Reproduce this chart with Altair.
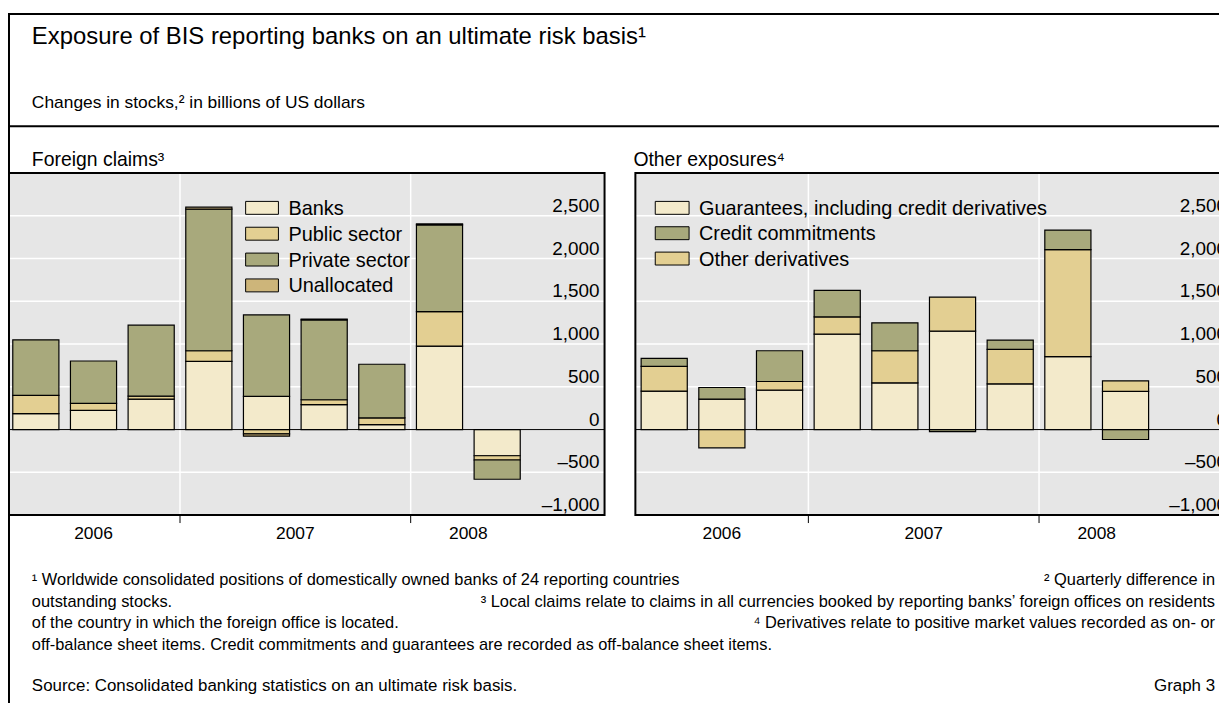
import altair as alt
import pandas as pd

# ---------------- data ----------------
quarters = ["2006-Q2", "2006-Q3", "2006-Q4", "2007-Q1", "2007-Q2",
            "2007-Q3", "2007-Q4", "2008-Q1", "2008-Q2"]

# Foreign claims (stack order bottom-up)
fc_names = ["Banks", "Public sector", "Private sector", "Unallocated"]
banks = [186, 225, 357, 798, 388, 291, 58, 977, -306]
public_sector = [213, 81, 34, 124, -50, 58, 78, 403, -50]
private_sector = [651, 496, 830, 1656, 953, 934, 628, 1015, -225]
unallocated = [0, 0, 0, 23, -27, 10, 0, 10, 0]

# Other exposures
oe_legend = ["Guarantees, including credit derivatives", "Credit commitments", "Other derivatives"]
oe_stack = ["Guarantees, including credit derivatives", "Other derivatives", "Credit commitments"]
guarantees = [450, 357, 461, 1116, 547, 1151, 535, 853, 446]
other_derivatives = [290, -213, 101, 202, 375, 399, 403, 1252, 124]
credit_commitments = [93, 135, 360, 310, 326, -23, 109, 228, -116]

y_ticks = [-1000, -500, 0, 500, 1000, 1500, 2000, 2500]
y_tick_labels = ["\u20131,000", "\u2013500", "0", "500", "1,000", "1,500", "2,000", "2,500"]

title = "Exposure of BIS reporting banks on an ultimate risk basis\u00b9"
subtitle = "Changes in stocks,\u00b2 in billions of US dollars"
panel_titles = ["Foreign claims\u00b3", "Other exposures\u2074"]
footnotes = [
    ("\u00b9 Worldwide consolidated positions of domestically owned banks of 24 reporting countries",
     "\u00b2 Quarterly difference in"),
    ("outstanding stocks.",
     "\u00b3 Local claims relate to claims in all currencies booked by reporting banks\u2019 foreign offices on residents"),
    ("of the country in which the foreign office is located.",
     "\u2074 Derivatives relate to positive market values recorded as on- or"),
    ("off-balance sheet items. Credit commitments and guarantees are recorded as off-balance sheet items.", ""),
]
source = "Source: Consolidated banking statistics on an ultimate risk basis."
graph_no = "Graph 3"

# ---------------- styles / layout ----------------
FONT = "Liberation Sans"
LIGHT = "#F3EACB"
TAN = "#E3CF92"
OLIVE = "#A8A97C"
DARKTAN = "#CDB57A"
BG = "#E6E6E6"
colors = {
    "Banks": LIGHT, "Public sector": TAN, "Private sector": OLIVE, "Unallocated": DARKTAN,
    "Guarantees, including credit derivatives": LIGHT, "Credit commitments": OLIVE,
    "Other derivatives": TAN,
}

W, H = 1218, 695
STEP = 58.0            # px per quarter
FIRST = 28.0           # px of first bar centre (left panel)
RIGHT_SHIFT = 632.0    # px shift of right panel
ZERO = 422.0           # px of zero line
PPU = 0.086            # px per billion
BAR_HALF = 0.4

d0 = 1 - FIRST / STEP
XS = alt.Scale(domain=[d0, d0 + W / STEP], nice=False, zero=False)
YS = alt.Scale(domain=[-(H - ZERO) / PPU, ZERO / PPU], nice=False, zero=False)
off_r = RIGHT_SHIFT / STEP
YMAX, YMIN = 3000, -1000

panels = [
    dict(px0=1, px1=600, off=0.0, lab_x=595),
    dict(px0=631, px1=1232, off=off_r, lab_x=1226),
]


def stack_rows(names, series, off):
    rows = []
    for i in range(len(quarters)):
        pos, neg = 0.0, 0.0
        for name, vals in zip(names, series):
            v = vals[i]
            if v == 0:
                continue
            if v > 0:
                y0, pos = pos, pos + v
                y1 = pos
            else:
                y0, neg = neg, neg + v
                y1 = neg
            rows.append(dict(quarter=quarters[i], series=name, value=v,
                             xa=i + 1 - BAR_HALF + off, xb=i + 1 + BAR_HALF + off, y0=y0, y1=y1))
    return rows


bars_df = pd.DataFrame(
    stack_rows(fc_names, [banks, public_sector, private_sector, unallocated], 0.0)
    + stack_rows(oe_stack, [guarantees, other_derivatives, credit_commitments], off_r)
)

# year boundaries and centres derived from the quarter list
yrs = [q[:4] for q in quarters]
boundaries = [i + 0.5 for i in range(1, len(quarters)) if yrs[i] != yrs[i - 1]]
year_names = sorted(set(yrs))
year_centres = [sum(i + 1 for i, y in enumerate(yrs) if y == yn) / yrs.count(yn) for yn in year_names]

one = pd.DataFrame({"k": [0]})
layers = []


def text_layer(s, x, y, size, align="left", baseline="alphabetic"):
    return alt.Chart(pd.DataFrame({"t": [s]})).mark_text(
        align=align, baseline=baseline, fontSize=size, font=FONT, color="black"
    ).encode(x=alt.value(x), y=alt.value(y), text="t:N")


# outer frame and divider
layers.append(alt.Chart(one).mark_rect(fill=None, stroke="black", strokeWidth=2).encode(
    x=alt.value(1), x2=alt.value(1400), y=alt.value(4), y2=alt.value(1200)))
layers.append(alt.Chart(one).mark_rule(color="black", strokeWidth=2).encode(
    x=alt.value(1), x2=alt.value(1400), y=alt.value(117)))

for p in panels:
    layers.append(alt.Chart(one).mark_rect(fill=BG).encode(
        x=alt.value(p["px0"]), x2=alt.value(p["px1"]),
        y=alt.YDatum(YMAX, scale=YS, axis=None), y2=alt.Y2Datum(YMIN)))
    grid_df = pd.DataFrame({"v": [t for t in y_ticks if t != 0]})
    layers.append(alt.Chart(grid_df).mark_rule(color="white", strokeWidth=1.5).encode(
        y=alt.Y("v:Q", scale=YS, axis=None), x=alt.value(p["px0"]), x2=alt.value(p["px1"])))
    vb = pd.DataFrame({"v": [b + p["off"] for b in boundaries]})
    layers.append(alt.Chart(vb).mark_rule(color="white", strokeWidth=1.5).encode(
        x=alt.X("v:Q", scale=XS, axis=None),
        y=alt.YDatum(YMAX, scale=YS, axis=None), y2=alt.Y2Datum(YMIN)))

layers.append(alt.Chart(bars_df).mark_rect(stroke="black", strokeWidth=1.2).encode(
    x=alt.X("xa:Q", scale=XS, axis=None), x2="xb:Q",
    y=alt.Y("y0:Q", scale=YS, axis=None), y2="y1:Q",
    color=alt.Color("series:N", scale=alt.Scale(domain=list(colors.keys()),
                                                 range=list(colors.values())), legend=None),
    tooltip=["quarter:N", "series:N", "value:Q"]))

for pi, p in enumerate(panels):
    layers.append(alt.Chart(one).mark_rule(color="black", strokeWidth=1).encode(
        y=alt.YDatum(0, scale=YS, axis=None), x=alt.value(p["px0"]), x2=alt.value(p["px1"])))
    layers.append(alt.Chart(one).mark_rect(fill=None, stroke="black", strokeWidth=2).encode(
        x=alt.value(p["px0"]), x2=alt.value(p["px1"]),
        y=alt.YDatum(YMAX, scale=YS, axis=None), y2=alt.Y2Datum(YMIN)))
    lab_df = pd.DataFrame({"v": y_ticks, "lab": y_tick_labels})
    layers.append(alt.Chart(lab_df).mark_text(align="right", baseline="alphabetic", dy=-4,
                                              fontSize=19, font=FONT, color="black").encode(
        x=alt.value(p["lab_x"]), y=alt.Y("v:Q", scale=YS, axis=None), text="lab:N"))
    vb = pd.DataFrame({"v": [b + p["off"] for b in boundaries]})
    layers.append(alt.Chart(vb).mark_rule(color="black", strokeWidth=1).encode(
        x=alt.X("v:Q", scale=XS, axis=None),
        y=alt.YDatum(YMIN, scale=YS, axis=None), y2=alt.value(516)))
    yl = pd.DataFrame({"v": [c + p["off"] for c in year_centres], "t": year_names})
    layers.append(alt.Chart(yl).mark_text(align="center", baseline="middle", fontSize=17.5,
                                          font=FONT, color="black").encode(
        x=alt.X("v:Q", scale=XS, axis=None), y=alt.value(527), text="t:N"))
    layers.append(text_layer(panel_titles[pi], 24 if pi == 0 else 629, 157, 19.5))

# legends
for i, name in enumerate(fc_names):
    cy = 199 + 26 * i
    layers.append(alt.Chart(one).mark_rect(fill=colors[name], stroke="black", strokeWidth=1).encode(
        x=alt.value(239), x2=alt.value(272), y=alt.value(cy - 6.5), y2=alt.value(cy + 6.5)))
    layers.append(text_layer(name, 282, cy + 1, 20, baseline="middle"))
for i, name in enumerate(oe_legend):
    cy = 199 + 25.5 * i
    layers.append(alt.Chart(one).mark_rect(fill=colors[name], stroke="black", strokeWidth=1).encode(
        x=alt.value(651), x2=alt.value(685), y=alt.value(cy - 6.5), y2=alt.value(cy + 6.5)))
    layers.append(text_layer(name, 695, cy + 1, 20, baseline="middle"))

# titles
layers.append(text_layer(title, 24, 34, 24))
layers.append(text_layer(subtitle, 24, 99, 17.5))

# footnotes
for j, (left, right) in enumerate(footnotes):
    yb = 578 + 22 * j
    layers.append(text_layer(left, 24, yb, 16.5))
    if right:
        layers.append(text_layer(right, 1214, yb, 16.5, align="right"))
layers.append(text_layer(source, 24, 685, 17))
layers.append(text_layer(graph_no, 1214, 685, 17, align="right"))

chart = alt.layer(*layers).properties(
    width=W, height=H, padding=0,
    autosize=alt.AutoSizeParams(type="none"),
).configure_view(stroke=None)

chart.save("out.html", embed_options={"renderer": "svg", "actions": False})
